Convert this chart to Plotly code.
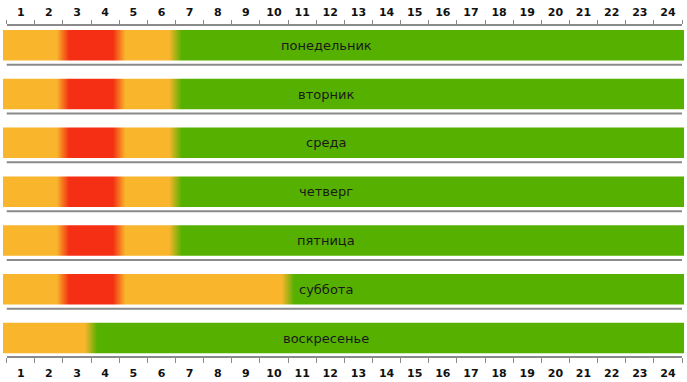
import plotly.graph_objects as go

# --- data -------------------------------------------------------------
hours = list(range(1, 25))
hour_labels = [str(h) for h in hours]
days = ["понедельник", "вторник", "среда", "четверг", "пятница", "суббота", "воскресенье"]
# load level per hour: 0 = low (green), 1 = medium (orange), 2 = high (red)
mon = [1, 1, 2, 2, 1, 1] + [0] * 18
tue = [1, 1, 2, 2, 1, 1] + [0] * 18
wed = [1, 1, 2, 2, 1, 1] + [0] * 18
thu = [1, 1, 2, 2, 1, 1] + [0] * 18
fri = [1, 1, 2, 2, 1, 1] + [0] * 18
sat = [1, 1, 2, 2, 1, 1, 1, 1, 1, 1] + [0] * 14
sun = [1, 1, 1] + [0] * 21
levels = [mon, tue, wed, thu, fri, sat, sun]

LEVEL_COLORS = ["#55b000", "#f9b52b", "#f42f13"]
GRID = "#8a8a8a"

# --- geometry / style ---------------------------------------------------
W = 0.22             # half-width of the soft colour transition, in hours
HALF = 0.3125        # half bar height in row units
x_range = [0.3685, 24.571]
y_range = [6.368, -0.3945]
lo, hi = hours[0] - 0.5, hours[-1] + 0.5


def gradient_stops(row):
    span = hi - lo
    stops = [[0.0, LEVEL_COLORS[row[0]]]]
    for h, v in zip(hours, row):
        c = LEVEL_COLORS[v]
        stops.append([(h - 0.5 + W - lo) / span, c])
        stops.append([(h + 0.5 - W - lo) / span, c])
    stops.append([1.0, LEVEL_COLORS[row[-1]]])
    return stops


fig = go.Figure()

for k, (day, row) in enumerate(zip(days, levels)):
    x0, x1 = x_range
    fig.add_trace(go.Scatter(
        x=[x0, x1, x1, x0, x0],
        y=[k - HALF, k - HALF, k + HALF, k + HALF, k - HALF],
        mode="lines", line=dict(width=0, color="rgba(0,0,0,0)"),
        fill="toself",
        fillgradient=dict(type="horizontal", start=lo, stop=hi,
                          colorscale=gradient_stops(row)),
        hoverinfo="skip", showlegend=False,
    ))
    fig.add_annotation(x=11.85, y=k, text=day, showarrow=False,
                       xanchor="center", yanchor="middle",
                       font=dict(family="DejaVu Sans", size=13, color="#1a1a1a"))
    if k < len(days) - 1:
        fig.add_shape(type="line", xref="x", yref="y",
                      x0=lo, x1=hi, y0=k + 0.4, y1=k + 0.4,
                      line=dict(color=GRID, width=2))

# invisible traces so the extra axes are drawn
for ax in ["x2", "x3", "x4"]:
    fig.add_trace(go.Scatter(x=[None], y=[None], xaxis=ax, yaxis="y",
                             showlegend=False, hoverinfo="skip"))

label_font = dict(family="DejaVu Sans", size=11, color="#111111", weight="bold")
bounds = [h - 0.5 for h in hours] + [hi]
dom = [(6.7 - 3) / 681, (682 - 3) / 681]

fig.update_layout(
    width=687, height=382,
    margin=dict(l=3, r=3, t=26, b=26),
    paper_bgcolor="white", plot_bgcolor="rgba(0,0,0,0)",
    showlegend=False,
    xaxis=dict(range=x_range, autorange=False, tickmode="array", tickvals=hours,
               ticktext=hour_labels, ticks="outside", ticklen=7,
               tickcolor="rgba(0,0,0,0)",
               showgrid=False, zeroline=False, showline=False, tickfont=label_font),
    xaxis2=dict(range=x_range, autorange=False, overlaying="x", side="top",
                tickmode="array", tickvals=hours, ticktext=hour_labels,
                ticks="outside", ticklen=5, tickcolor="rgba(0,0,0,0)",
                showgrid=False, zeroline=False, showline=False, tickfont=label_font),
    xaxis3=dict(domain=dom, anchor="y", range=[lo, hi], autorange=False, side="bottom",
                tickmode="array", tickvals=bounds, showticklabels=False,
                ticks="outside", ticklen=5, tickwidth=1, tickcolor=GRID,
                showline=True, linecolor=GRID, linewidth=2,
                showgrid=False, zeroline=False),
    xaxis4=dict(domain=dom, anchor="y", range=[lo, hi], autorange=False, side="top",
                tickmode="array", tickvals=bounds, showticklabels=False,
                ticks="outside", ticklen=4, tickwidth=1, tickcolor=GRID,
                showline=True, linecolor=GRID, linewidth=2,
                showgrid=False, zeroline=False),
    yaxis=dict(range=y_range, autorange=False, showticklabels=False, ticks="",
               showgrid=False, zeroline=False, showline=False),
)

fig.write_html("out.html", config={"displayModeBar": False},
               post_script="document.body.style.margin='0';")
